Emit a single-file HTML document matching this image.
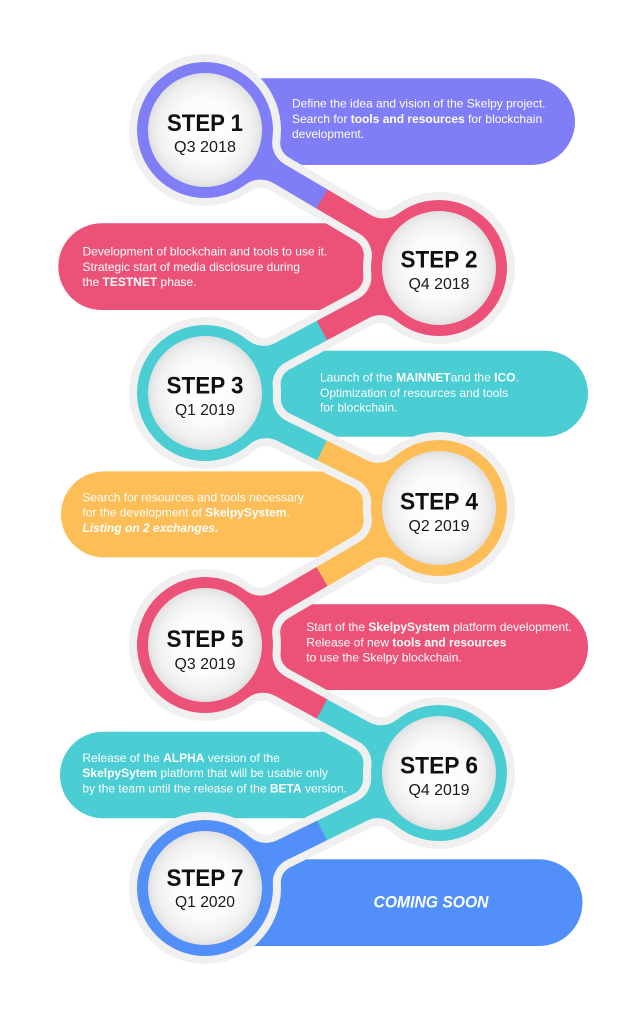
<!DOCTYPE html>
<html><head><meta charset="utf-8"><style>
html,body{margin:0;padding:0;background:#fff;}
svg{display:block;}
.b{font-family:"Liberation Sans",Arial,sans-serif;font-size:12px;fill:#fff;}
.st{font-family:"Liberation Sans",Arial,sans-serif;font-size:24px;font-weight:bold;fill:#111;}
.dt{font-family:"Liberation Sans",Arial,sans-serif;font-size:16px;fill:#1a1a1a;}
</style></head><body>
<svg width="640" height="1025" viewBox="0 0 640 1025" xmlns="http://www.w3.org/2000/svg">
<defs>
<radialGradient id="g" cx="0.5" cy="0.5" r="0.5">
<stop offset="0" stop-color="#ffffff"/>
<stop offset="0.55" stop-color="#fbfbfb"/>
<stop offset="0.85" stop-color="#efefef"/>
<stop offset="1" stop-color="#e0e0e0"/>
</radialGradient>
</defs>
<rect width="640" height="1025" fill="#fff"/>

<!-- bubbles -->
<rect x="160" y="78.3" width="415" height="86.7" rx="43.3" fill="#7f7ef6"/>
<rect x="58.3" y="223.3" width="430" height="86.7" rx="43.3" fill="#ec5277"/>
<rect x="160" y="350.7" width="428" height="86" rx="43" fill="#4acdd3"/>
<rect x="61" y="471.4" width="425" height="86" rx="43" fill="#fdbe57"/>
<rect x="160" y="604.3" width="428" height="85.7" rx="42.8" fill="#ec5277"/>
<rect x="60" y="731.7" width="425" height="86.6" rx="43.3" fill="#4acdd3"/>
<rect x="160" y="859.3" width="422.5" height="86.7" rx="43.3" fill="#528ff8"/>

<!-- halo -->
<g fill="#f0f0f0" stroke="#f0f0f0" stroke-width="16" stroke-linejoin="round">
<path transform="translate(205,130) rotate(30.53)" d="M62.7 26.32 A25 25 0 0 1 85.75 11 L136 11 L136 -11 L85.75 -11 A25 25 0 0 1 62.7 -26.32 Z"/>
<path transform="translate(439,268) rotate(210.53)" d="M62.7 26.32 A25 25 0 0 1 85.75 11 L136 11 L136 -11 L85.75 -11 A25 25 0 0 1 62.7 -26.32 Z"/>
<path transform="translate(439,268) rotate(151.89)" d="M62.7 26.32 A25 25 0 0 1 85.75 11 L133 11 L133 -11 L85.75 -11 A25 25 0 0 1 62.7 -26.32 Z"/>
<path transform="translate(205,393) rotate(-28.11)" d="M62.7 26.32 A25 25 0 0 1 85.75 11 L133 11 L133 -11 L85.75 -11 A25 25 0 0 1 62.7 -26.32 Z"/>
<path transform="translate(205,393) rotate(26.17)" d="M62.7 26.32 A25 25 0 0 1 85.75 11 L131 11 L131 -11 L85.75 -11 A25 25 0 0 1 62.7 -26.32 Z"/>
<path transform="translate(439,508) rotate(206.17)" d="M62.7 26.32 A25 25 0 0 1 85.75 11 L131 11 L131 -11 L85.75 -11 A25 25 0 0 1 62.7 -26.32 Z"/>
<path transform="translate(439,508) rotate(149.65)" d="M62.7 26.32 A25 25 0 0 1 85.75 11 L136 11 L136 -11 L85.75 -11 A25 25 0 0 1 62.7 -26.32 Z"/>
<path transform="translate(205,645) rotate(-30.35)" d="M62.7 26.32 A25 25 0 0 1 85.75 11 L136 11 L136 -11 L85.75 -11 A25 25 0 0 1 62.7 -26.32 Z"/>
<path transform="translate(205,645) rotate(28.68)" d="M62.7 26.32 A25 25 0 0 1 85.75 11 L134 11 L134 -11 L85.75 -11 A25 25 0 0 1 62.7 -26.32 Z"/>
<path transform="translate(439,773) rotate(208.68)" d="M62.7 26.32 A25 25 0 0 1 85.75 11 L134 11 L134 -11 L85.75 -11 A25 25 0 0 1 62.7 -26.32 Z"/>
<path transform="translate(439,773) rotate(153.83)" d="M62.7 26.32 A25 25 0 0 1 85.75 11 L131 11 L131 -11 L85.75 -11 A25 25 0 0 1 62.7 -26.32 Z"/>
<path transform="translate(205,888) rotate(-26.17)" d="M62.7 26.32 A25 25 0 0 1 85.75 11 L131 11 L131 -11 L85.75 -11 A25 25 0 0 1 62.7 -26.32 Z"/>
</g>
<g fill="#f0f0f0">
<circle cx="205" cy="130" r="76"/>
<circle cx="439" cy="268" r="76"/>
<circle cx="205" cy="393" r="76"/>
<circle cx="439" cy="508" r="76"/>
<circle cx="205" cy="645" r="76"/>
<circle cx="439" cy="773" r="76"/>
<circle cx="205" cy="888" r="76"/>
</g>

<!-- chain fills -->
<circle cx="205" cy="130" r="68" fill="#7f7ef6"/>
<circle cx="439" cy="268" r="68" fill="#ec5277"/>
<circle cx="205" cy="393" r="68" fill="#4acdd3"/>
<circle cx="439" cy="508" r="68" fill="#fdbe57"/>
<circle cx="205" cy="645" r="68" fill="#ec5277"/>
<circle cx="439" cy="773" r="68" fill="#4acdd3"/>
<circle cx="205" cy="888" r="68" fill="#528ff8"/>

<path fill="#7f7ef6" transform="translate(205,130) rotate(30.53)" d="M62.7 26.32 A25 25 0 0 1 85.75 11 L136.3 11 L136.3 -11 L85.75 -11 A25 25 0 0 1 62.7 -26.32 Z"/>
<path fill="#ec5277" transform="translate(439,268) rotate(210.53)" d="M62.7 26.32 A25 25 0 0 1 85.75 11 L135.83 11 L135.83 -11 L85.75 -11 A25 25 0 0 1 62.7 -26.32 Z"/>
<path fill="#ec5277" transform="translate(439,268) rotate(151.89)" d="M62.7 26.32 A25 25 0 0 1 85.75 11 L133.1 11 L133.1 -11 L85.75 -11 A25 25 0 0 1 62.7 -26.32 Z"/>
<path fill="#4acdd3" transform="translate(205,393) rotate(-28.11)" d="M62.7 26.32 A25 25 0 0 1 85.75 11 L132.65 11 L132.65 -11 L85.75 -11 A25 25 0 0 1 62.7 -26.32 Z"/>
<path fill="#4acdd3" transform="translate(205,393) rotate(26.17)" d="M62.7 26.32 A25 25 0 0 1 85.75 11 L130.8 11 L130.8 -11 L85.75 -11 A25 25 0 0 1 62.7 -26.32 Z"/>
<path fill="#fdbe57" transform="translate(439,508) rotate(206.17)" d="M62.7 26.32 A25 25 0 0 1 85.75 11 L130.37 11 L130.37 -11 L85.75 -11 A25 25 0 0 1 62.7 -26.32 Z"/>
<path fill="#fdbe57" transform="translate(439,508) rotate(149.65)" d="M62.7 26.32 A25 25 0 0 1 85.75 11 L136 11 L136 -11 L85.75 -11 A25 25 0 0 1 62.7 -26.32 Z"/>
<path fill="#ec5277" transform="translate(205,645) rotate(-30.35)" d="M62.7 26.32 A25 25 0 0 1 85.75 11 L135.58 11 L135.58 -11 L85.75 -11 A25 25 0 0 1 62.7 -26.32 Z"/>
<path fill="#ec5277" transform="translate(205,645) rotate(28.68)" d="M62.7 26.32 A25 25 0 0 1 85.75 11 L133.8 11 L133.8 -11 L85.75 -11 A25 25 0 0 1 62.7 -26.32 Z"/>
<path fill="#4acdd3" transform="translate(439,773) rotate(208.68)" d="M62.7 26.32 A25 25 0 0 1 85.75 11 L133.36 11 L133.36 -11 L85.75 -11 A25 25 0 0 1 62.7 -26.32 Z"/>
<path fill="#4acdd3" transform="translate(439,773) rotate(153.83)" d="M62.7 26.32 A25 25 0 0 1 85.75 11 L130.8 11 L130.8 -11 L85.75 -11 A25 25 0 0 1 62.7 -26.32 Z"/>
<path fill="#528ff8" transform="translate(205,888) rotate(-26.17)" d="M62.7 26.32 A25 25 0 0 1 85.75 11 L130.37 11 L130.37 -11 L85.75 -11 A25 25 0 0 1 62.7 -26.32 Z"/>

<!-- inner circles -->
<g fill="url(#g)">
<circle cx="205" cy="130" r="57"/>
<circle cx="439" cy="268" r="57"/>
<circle cx="205" cy="393" r="57"/>
<circle cx="439" cy="508" r="57"/>
<circle cx="205" cy="645" r="57"/>
<circle cx="439" cy="773" r="57"/>
<circle cx="205" cy="888" r="57"/>
</g>

<!-- step labels -->
<g text-anchor="middle">
<text class="st" x="205" y="131" textLength="76" lengthAdjust="spacingAndGlyphs">STEP 1</text>
<text class="dt" x="205" y="152" textLength="62" lengthAdjust="spacingAndGlyphs">Q3 2018</text>
<text class="st" x="439" y="267.5" textLength="77" lengthAdjust="spacingAndGlyphs">STEP 2</text>
<text class="dt" x="439" y="289" textLength="61" lengthAdjust="spacingAndGlyphs">Q4 2018</text>
<text class="st" x="205" y="393.5" textLength="77" lengthAdjust="spacingAndGlyphs">STEP 3</text>
<text class="dt" x="205" y="415" textLength="60" lengthAdjust="spacingAndGlyphs">Q1 2019</text>
<text class="st" x="439" y="509.5" textLength="78" lengthAdjust="spacingAndGlyphs">STEP 4</text>
<text class="dt" x="439" y="531" textLength="61" lengthAdjust="spacingAndGlyphs">Q2 2019</text>
<text class="st" x="205" y="647" textLength="77" lengthAdjust="spacingAndGlyphs">STEP 5</text>
<text class="dt" x="205" y="669" textLength="61" lengthAdjust="spacingAndGlyphs">Q3 2019</text>
<text class="st" x="439" y="773.5" textLength="78" lengthAdjust="spacingAndGlyphs">STEP 6</text>
<text class="dt" x="439" y="795" textLength="61" lengthAdjust="spacingAndGlyphs">Q4 2019</text>
<text class="st" x="205" y="886" textLength="77" lengthAdjust="spacingAndGlyphs">STEP 7</text>
<text class="dt" x="205" y="907" textLength="60" lengthAdjust="spacingAndGlyphs">Q1 2020</text>
</g>

<!-- bubble texts -->
<text class="b" x="292" y="107.5">Define the idea and vision of the Skelpy project.</text>
<text class="b" x="292" y="122.8">Search for <tspan font-weight="bold">tools and resources</tspan> for blockchain</text>
<text class="b" x="292" y="138">development.</text>

<text class="b" x="82.5" y="255.7">Development of blockchain and tools to use it.</text>
<text class="b" x="82.5" y="271">Strategic start of media disclosure during</text>
<text class="b" x="82.5" y="286">the <tspan font-weight="bold">TESTNET</tspan> phase.</text>

<text class="b" x="320" y="381.5">Launch of the <tspan font-weight="bold">MAINNET</tspan>and the <tspan font-weight="bold">ICO</tspan>.</text>
<text class="b" x="320" y="396.8">Optimization of resources and tools</text>
<text class="b" x="320" y="411.5">for blockchain.</text>

<text class="b" x="82.4" y="501.5">Search for resources and tools necessary</text>
<text class="b" x="82.4" y="516.5">for the development of <tspan font-weight="bold">SkelpySystem</tspan>.</text>
<text class="b" x="82.4" y="532" font-weight="bold" font-style="italic">Listing on 2 exchanges.</text>

<text class="b" x="306.3" y="631">Start of the <tspan font-weight="bold">SkelpySystem</tspan> platform development.</text>
<text class="b" x="306.3" y="646.3">Release of new <tspan font-weight="bold">tools and resources</tspan></text>
<text class="b" x="306.3" y="661.7">to use the Skelpy blockchain.</text>

<text class="b" x="82.4" y="762">Release of the <tspan font-weight="bold">ALPHA</tspan> version of the</text>
<text class="b" x="82.4" y="777.2"><tspan font-weight="bold">SkelpySytem</tspan> platform  that will be usable only</text>
<text class="b" x="82.4" y="792.5">by the team until the release of the <tspan font-weight="bold">BETA</tspan> version.</text>

<text x="431" y="907.5" text-anchor="middle" font-family="Liberation Sans, Arial, sans-serif" font-size="17" font-weight="bold" font-style="italic" fill="#fff" textLength="115" lengthAdjust="spacingAndGlyphs">COMING SOON</text>
</svg>
</body></html>
